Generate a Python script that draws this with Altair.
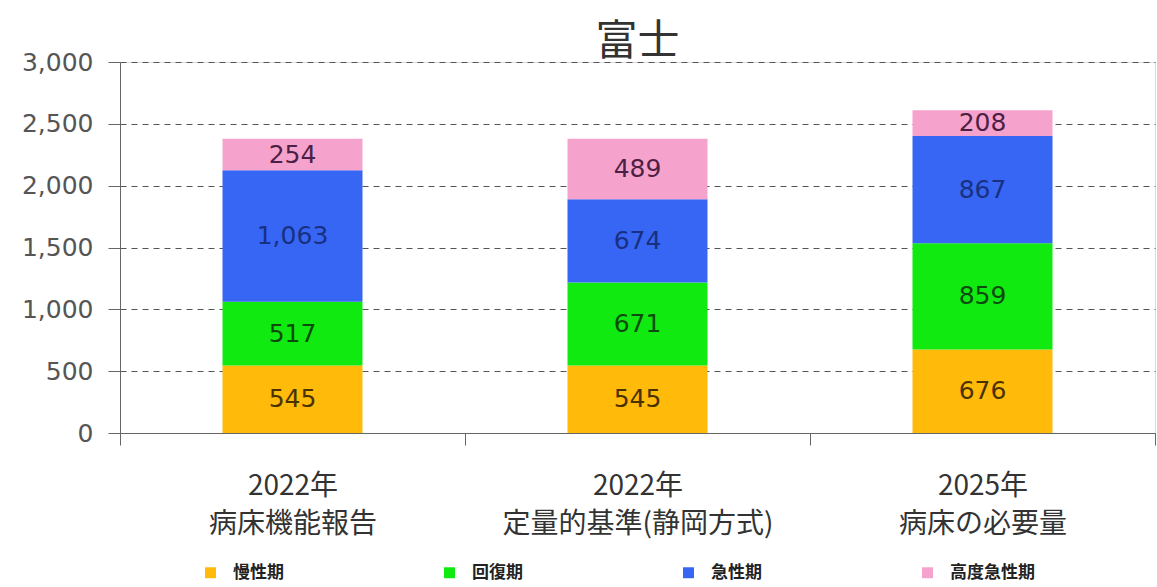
import altair as alt
import pandas as pd

categories = ["2022年\n病床機能報告", "2022年\n定量的基準(静岡方式)", "2025年\n病床の必要量"]
series = ["慢性期", "回復期", "急性期", "高度急性期"]
colors = ["#FFBA0A", "#10EA10", "#3766F4", "#F5A3CD"]
text_colors = ["#4a3200", "#0d4a0d", "#18307f", "#4d1f45"]
values = {
    "慢性期": [545, 545, 676],
    "回復期": [517, 671, 859],
    "急性期": [1063, 674, 867],
    "高度急性期": [254, 489, 208],
}

rows = []
for si, s in enumerate(series):
    for ci, c in enumerate(categories):
        rows.append({"cat": c, "series": s, "order": si, "value": values[s][ci],
                     "tcolor": text_colors[si]})
df = pd.DataFrame(rows)

FONT = "Noto Sans CJK JP"
NUMFONT = "DejaVu Sans"

base = alt.Chart(df).transform_stack(
    stack="value", groupby=["cat"], as_=["start", "end"], sort=[alt.SortField("order")]
).transform_calculate(mid="(datum.start + datum.end) / 2")

xaxis = alt.Axis(
    labelExpr="split(datum.label, '\\n')",
    labelFont=FONT,
    labelFontSize=28,
    labelColor="#333333",
    labelAngle=0,
    labelPadding=27,
    labelLineHeight=38,
    labelLimit=400,
    tickBand="extent",
    tickSize=12,
    tickColor="#666666",
    domainColor="#666666",
    grid=False,
)
xscale = alt.Scale(paddingInner=0, paddingOuter=0)

yaxis = alt.Axis(
    values=[0, 500, 1000, 1500, 2000, 2500, 3000],
    format=",.0f",
    labelFont=NUMFONT,
    labelFontSize=25,
    labelColor="#555555",
    labelPadding=15,
    tickSize=12,
    tickColor="#666666",
    domainColor="#666666",
    grid=True,
    gridDash=[6, 5],
    gridColor="#555555",
    gridWidth=1,
)
yscale = alt.Scale(domain=[0, 3000])

bars = base.mark_bar(size=140).encode(
    x=alt.X("cat:N", sort=categories, title=None, scale=xscale, axis=xaxis),
    y=alt.Y("start:Q", scale=yscale, title=None, axis=yaxis),
    y2="end:Q",
    color=alt.Color(
        "series:N",
        scale=alt.Scale(domain=series, range=colors),
        sort=series,
        title=None,
        legend=alt.Legend(
            orient="none",
            legendX=82,
            legendY=502,
            direction="horizontal",
            columns=4,
            gridAlign="all",
            columnPadding=123,
            symbolType="square",
            symbolSize=120,
            symbolStrokeWidth=0,
            labelFont=FONT,
            labelFontSize=17,
            labelFontWeight="bold",
            labelColor="#222222",
            labelOffset=14,
        ),
    ),
    order=alt.Order("order:Q"),
)

labels = base.mark_text(font=NUMFONT, fontSize=25).encode(
    x=alt.X("cat:N", sort=categories, title=None, scale=xscale, axis=xaxis),
    y=alt.Y("mid:Q", scale=yscale, title=None, axis=yaxis),
    text=alt.Text("value:Q", format=","),
    color=alt.Color("tcolor:N", scale=None),
)

chart = (
    alt.layer(bars, labels)
    .properties(
        width=1035,
        height=371,
        autosize=alt.AutoSizeParams(type="none"),
        padding={"left": 120, "top": 62, "right": 2, "bottom": 154},
        title=alt.TitleParams(
            "富士", font=FONT, fontSize=42, fontWeight="normal", color="#333333",
            anchor="middle", offset=-14,
        ),
    )
    .configure_view(stroke=None)
    .configure(background="white")
)

chart.save("out.html", embed_options={"renderer": "svg", "actions": False})
